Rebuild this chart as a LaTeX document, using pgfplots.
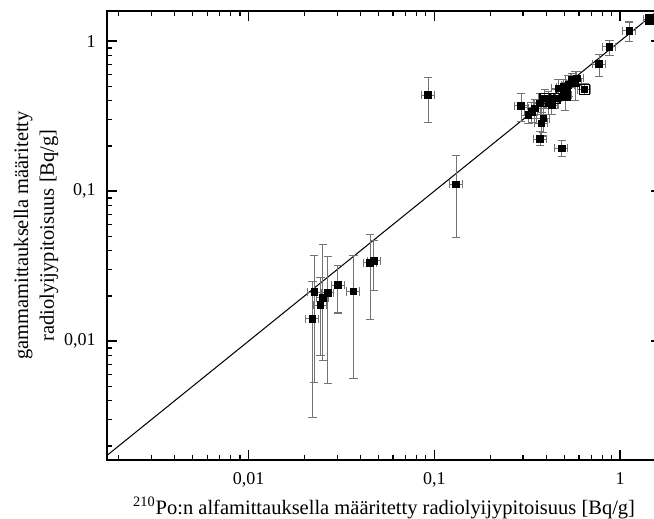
\documentclass[border=0pt]{standalone}
\usepackage{fontspec}
\setmainfont{Liberation Serif}
\usepackage{pgfplots}
\usepackage{pgfplotstable}
\pgfplotsset{compat=1.18}

\pgfplotstableread{
x y ex eyp eym
0.0226 0.0212 0.0018 0.0158 0.0159
0.0221 0.0141 0.0018 0.0108 0.0110
0.0244 0.0174 0.0020 0.0090 0.0094
0.0251 0.0194 0.0020 0.0247 0.0120
0.0267 0.0210 0.0021 0.0155 0.0158
0.0303 0.0236 0.0024 0.0082 0.0082
0.0367 0.0214 0.0029 0.0156 0.0158
0.0451 0.0333 0.0036 0.0184 0.0193
0.0473 0.0343 0.0038 0.0128 0.0126
0.131 0.111 0.0105 0.063 0.062
0.0925 0.436 0.0074 0.139 0.148
0.293 0.370 0.023 0.078 0.080
0.371 0.222 0.030 0.028 0.022
0.485 0.193 0.039 0.023 0.024
0.643 0.476 0.051 0.044 0.036
0.573 0.523 0.046 0.10 0.12
0.771 0.703 0.062 0.11 0.12
0.876 0.916 0.070 0.09 0.12
1.12 1.17 0.090 0.17 0.18
1.45 1.40 0.116 0.08 0.08
0.321 0.321 0.026 0.04 0.04
0.334 0.338 0.027 0.05 0.05
0.348 0.356 0.028 0.05 0.05
0.371 0.384 0.030 0.06 0.06
0.394 0.415 0.032 0.06 0.06
0.411 0.394 0.033 0.07 0.07
0.429 0.374 0.034 0.05 0.05
0.386 0.305 0.031 0.06 0.06
0.378 0.283 0.030 0.05 0.05
0.447 0.415 0.036 0.06 0.06
0.466 0.484 0.037 0.07 0.07
0.495 0.496 0.040 0.06 0.06
0.527 0.509 0.042 0.08 0.08
0.550 0.550 0.044 0.06 0.06
0.585 0.564 0.047 0.06 0.06
0.506 0.437 0.040 0.09 0.09
}\data

\begin{document}
\begin{tikzpicture}
\useasboundingbox (-52.2pt,-28.3pt) rectangle (266.9pt,224.5pt);
\begin{axis}[
  scale only axis,
  width=270.4pt, height=219.1pt,
  xmode=log, ymode=log,
  xmin=0.00173, xmax=1.663,
  ymin=0.00161, ymax=1.585,
  xtick={0.01,0.1,1}, xticklabels={{0,01},{0,1},{1}},
  ytick={0.01,0.1,1}, yticklabels={{0,01},{0,1},{1}},
  minor xtick={0.002,0.003,0.004,0.005,0.006,0.007,0.008,0.009,0.02,0.03,0.04,0.05,0.06,0.07,0.08,0.09,0.2,0.3,0.4,0.5,0.6,0.7,0.8,0.9},
  minor ytick={0.002,0.003,0.004,0.005,0.006,0.007,0.008,0.009,0.02,0.03,0.04,0.05,0.06,0.07,0.08,0.09,0.2,0.3,0.4,0.5,0.6,0.7,0.8,0.9},
  tick align=inside,
  major tick length=4.8pt, minor tick length=2.5pt,
  axis line style={line width=0.8pt},
  every major tick/.append style={black, line width=0.8pt},
  every minor tick/.append style={black, line width=0.6pt},
  /pgf/number format/assume math mode=true,
  tick label style={font=\fontsize{8.8}{10}\selectfont},
  xticklabel style={yshift=-2.5pt},
  yticklabel style={xshift=-2pt},
  xlabel={\textsuperscript{210}Po:n alfamittauksella määritetty radiolyijypitoisuus [Bq/g]},
  xlabel style={yshift=2pt},
  ylabel={gammamittauksella määritetty\\radiolyijypitoisuus [Bq/g]},
  ylabel style={align=center, font=\fontsize{10}{12.5}\selectfont, yshift=-4pt},
]
\addplot[black, line width=0.5pt, no marks] coordinates {(0.001,0.001) (2,2)};
\addplot[only marks, mark=square*, mark size=1.6pt, black,
  error bars/.cd,
    x dir=both, x explicit,
    y dir=both, y explicit,
    error bar style={black!55, line width=0.5pt},
    error mark options={rotate=90, black!55, mark size=2pt, line width=0.5pt}]
  table[x=x, y=y, x error=ex, y error plus=eyp, y error minus=eym] {\data};
\addplot[only marks, mark=square, mark size=2.4pt, black, mark options={line width=0.6pt}]
  coordinates {(0.643,0.476) (1.45,1.40) (0.394,0.415) (0.411,0.394) (0.447,0.415) (0.506,0.437)};
\end{axis}
\end{tikzpicture}
\end{document}
